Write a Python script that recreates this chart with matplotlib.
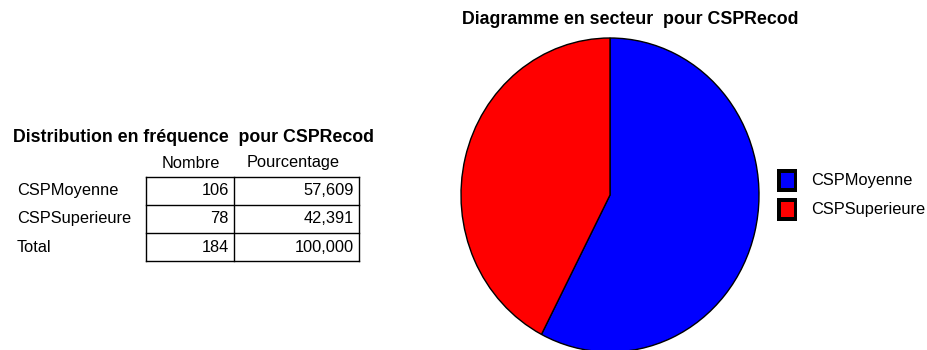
import matplotlib.pyplot as plt
from matplotlib.patches import Rectangle

plt.rcParams['font.family'] = ['Liberation Sans', 'DejaVu Sans']

categories = ["CSPMoyenne", "CSPSuperieure"]
counts = [106, 78]
colors = ["#0000ff", "#ff0000"]
col_headers = ["Nombre", "Pourcentage"]

total = sum(counts)
pcts = [100.0 * c / total for c in counts]


def fr(x):
    return ("%.3f" % x).replace(".", ",")


W, H = 928, 350
fig = plt.figure(figsize=(W / 100, H / 100), dpi=100)

# pixel-space overlay for the table and legend
bg = fig.add_axes([0, 0, 1, 1])
bg.set_xlim(0, W)
bg.set_ylim(H, 0)
bg.axis("off")

fs = 11.8
fs_title = 12.8

# frequency table
bg.text(194, 137, "Distribution en fréquence  pour CSPRecod", fontsize=fs_title,
        fontweight="bold", ha="center", va="center")
xl, xm, xr = 146, 234, 359
row_y = [177, 204.5, 233, 261]
bg.text(191, 163, col_headers[0], fontsize=fs, ha="center", va="center")
bg.text(293, 163, col_headers[1], fontsize=fs, ha="center", va="center")
for y in row_y:
    bg.plot([xl, xr], [y, y], color="black", lw=1)
for x in (xl, xm, xr):
    bg.plot([x, x], [row_y[0], row_y[-1]], color="black", lw=1)
rows = list(zip(categories, counts, pcts)) + [("Total", total, 100.0)]
for i, (name, n, p) in enumerate(rows):
    yc = (row_y[i] + row_y[i + 1]) / 2
    bg.text(17, yc, name, fontsize=fs, ha="left", va="center")
    bg.text(xm - 5, yc, str(n), fontsize=fs, ha="right", va="center")
    bg.text(xr - 5, yc, fr(p), fontsize=fs, ha="right", va="center")

# pie chart
cx, cy, rx, ry = 610, 195, 149, 157
pax = fig.add_axes([(cx - rx) / W, 1 - (cy + ry) / H, 2 * rx / W, 2 * ry / H])
pax.pie(counts, colors=colors, startangle=90, counterclock=False,
        wedgeprops=dict(edgecolor="black", linewidth=1.0))
pax.set_aspect("auto")
pax.set_xlim(-1.0, 1.0)
pax.set_ylim(-1.0, 1.0)
bg.text(630, 19, "Diagramme en secteur  pour CSPRecod", fontsize=fs_title,
        fontweight="bold", ha="center", va="center")

# legend
for i, (name, c) in enumerate(zip(categories, colors)):
    top = 169 + 29 * i
    bg.add_patch(Rectangle((777, top), 20, 23, facecolor="black", lw=0))
    bg.add_patch(Rectangle((781, top + 4), 13, 15, facecolor=c, lw=0))
    bg.text(811, top + 11.5, name, fontsize=fs, ha="left", va="center")

fig.savefig("out.png", dpi=100)
